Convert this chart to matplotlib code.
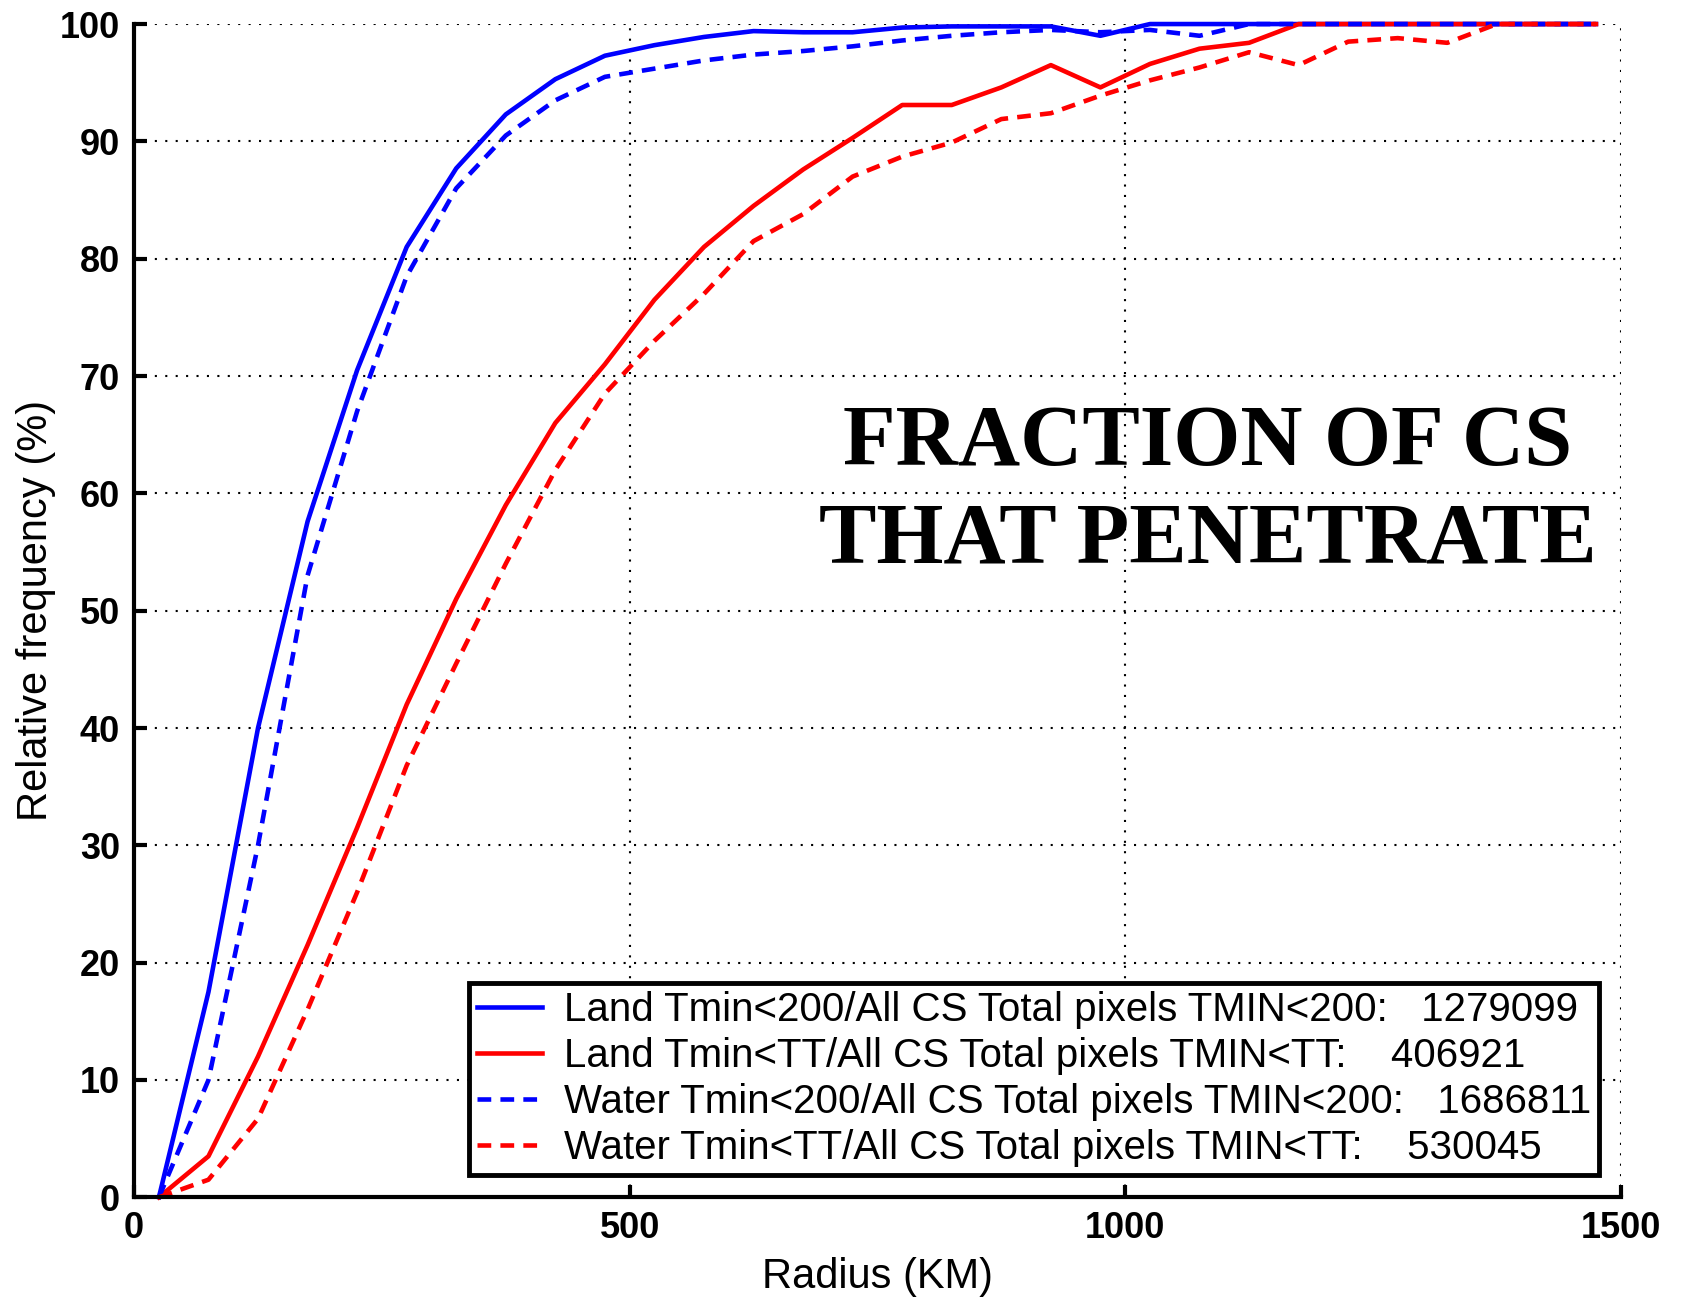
import matplotlib
matplotlib.use("Agg")
import matplotlib.pyplot as plt

# radius bin centres (km)
radius = [25, 75, 125, 175, 225, 275, 325, 375, 425, 475,
          525, 575, 625, 675, 725, 775, 825, 875, 925, 975,
          1025, 1075, 1125, 1175, 1225, 1275, 1325, 1375, 1425, 1475]

land_200 = [0, 17.5, 40, 57.6, 70.5, 81, 87.7, 92.3, 95.3, 97.3,
            98.2, 98.9, 99.4, 99.3, 99.3, 99.7, 99.8, 99.8, 99.8, 99.0,
            100, 100, 100, 100, 100, 100, 100, 100, 100, 100]
land_tt = [0, 3.5, 12, 21.5, 31.5, 42, 51, 59, 66, 71,
           76.5, 81, 84.5, 87.6, 90.3, 93.1, 93.1, 94.6, 96.5, 94.6,
           96.6, 97.9, 98.4, 100, 100, 100, 100, 100, 100, 100]
water_200 = [0, 10, 30, 53, 67, 78.5, 86, 90.5, 93.5, 95.5,
             96.2, 96.9, 97.4, 97.7, 98.1, 98.6, 99.0, 99.3, 99.5, 99.3,
             99.5, 99.0, 100, 100, 100, 100, 100, 100, 100, 100]
water_tt = [0, 1.5, 6.7, 16, 26, 36.8, 45.5, 54, 62, 68.5,
            73, 77, 81.5, 83.8, 87, 88.7, 89.9, 91.9, 92.4, 93.9,
            95.2, 96.3, 97.6, 96.5, 98.5, 98.8, 98.4, 100, 100, 100]

labels = ["Land Tmin<200/All CS Total pixels TMIN<200:   1279099",
          "Land Tmin<TT/All CS Total pixels TMIN<TT:    406921",
          "Water Tmin<200/All CS Total pixels TMIN<200:   1686811",
          "Water Tmin<TT/All CS Total pixels TMIN<TT:    530045"]

sans = ["Liberation Sans", "DejaVu Sans"]

fig = plt.figure(figsize=(16.83, 13), dpi=100)
ax = fig.add_axes([0.0797, 0.079, 0.8833, 0.9025])

lw = 3.3
dash = (0, (3, 2))
ax.plot(radius, land_200, color="#0000ff", lw=lw, label=labels[0], clip_on=False)
ax.plot(radius, land_tt, color="#ff0000", lw=lw, label=labels[1], clip_on=False)
ax.plot(radius, water_200, color="#0000ff", lw=lw, ls=dash, label=labels[2], clip_on=False)
ax.plot(radius, water_tt, color="#ff0000", lw=lw, ls=dash, label=labels[3], clip_on=False)

ax.set_xlim(0, 1500)
ax.set_ylim(0, 100)
ax.set_xticks([0, 500, 1000, 1500])
ax.set_yticks(range(0, 101, 10))

ax.grid(True, color="black", ls=(0, (1, 4)), lw=1.5)
ax.set_axisbelow(True)

for s in ["top", "right"]:
    ax.spines[s].set_visible(False)
for s in ["left", "bottom"]:
    ax.spines[s].set_linewidth(3)

ax.tick_params(direction="in", length=9, width=3, pad=10)
for t in ax.get_xticklabels() + ax.get_yticklabels():
    t.set_family(sans)
    t.set_fontsize(26)
    t.set_fontweight("bold")

ax.set_xlabel("Radius (KM)", fontsize=30, family=sans, labelpad=8)
ax.set_ylabel("Relative frequency (%)", fontsize=30, family=sans, labelpad=3)

ax.text(1083, 60, "FRACTION OF CS\nTHAT PENETRATE", ha="center", va="center",
        fontsize=62, fontweight="bold", family=["Liberation Serif", "DejaVu Serif"],
        linespacing=1.3)

leg = ax.legend(loc="lower right", bbox_to_anchor=(0.991, 0.012), fancybox=False,
                framealpha=1, edgecolor="black", handlelength=1.6, borderpad=0.2,
                labelspacing=0.2, handletextpad=0.55, borderaxespad=0.2,
                prop={"family": sans, "size": 29})
leg.get_frame().set_linewidth(3.5)

fig.savefig("out.png", dpi=100)
